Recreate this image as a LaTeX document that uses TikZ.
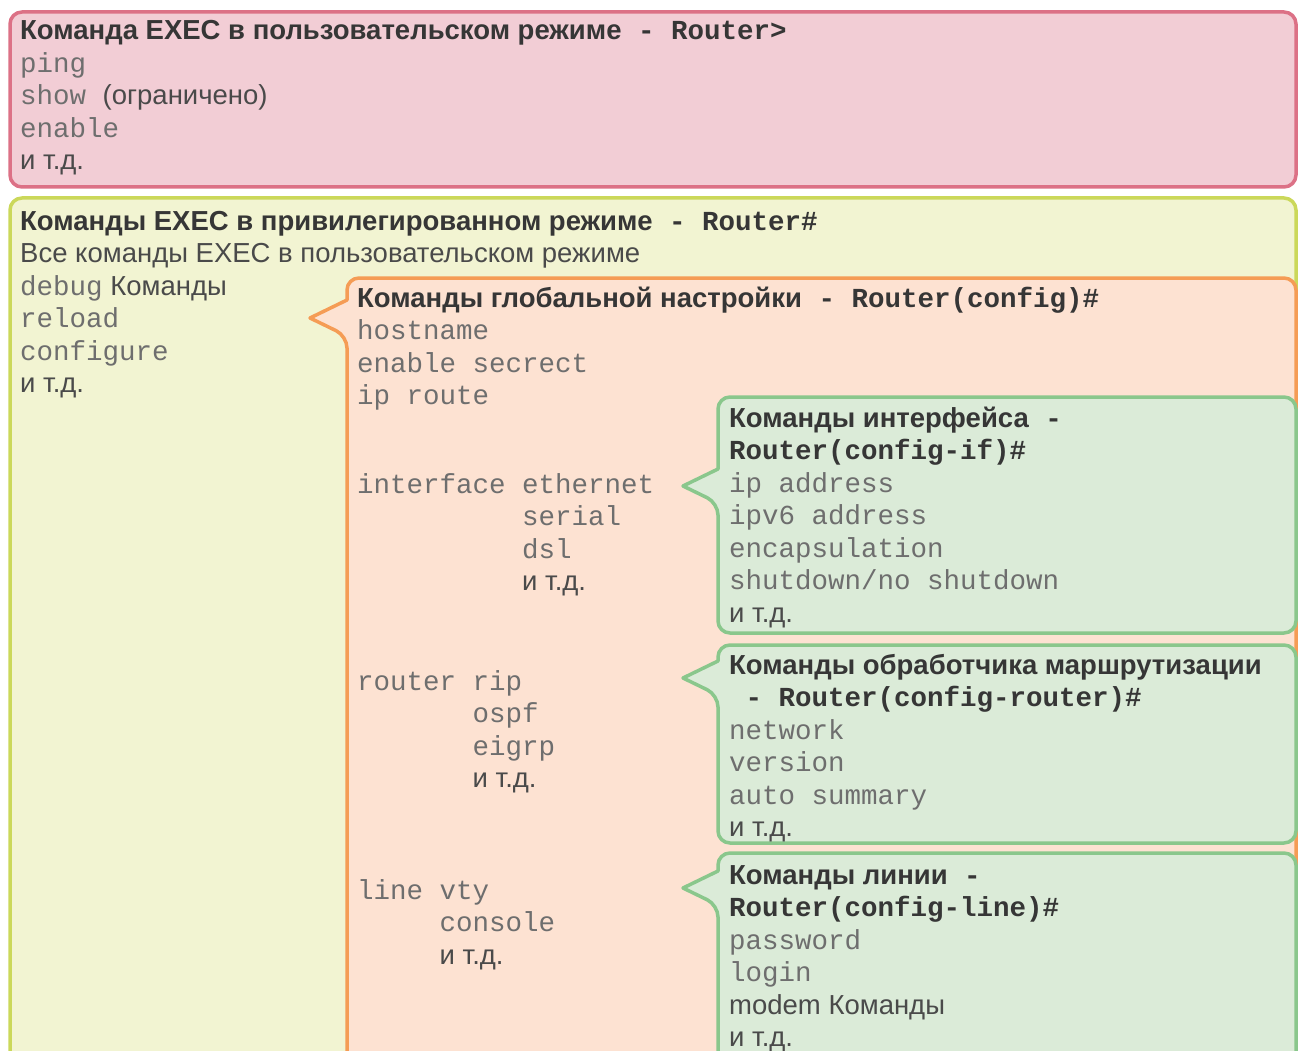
\documentclass[tikz,border=0pt]{standalone}
\usepackage{fontspec}
\setmainfont{Liberation Sans}
\setmonofont{Liberation Mono}
\usepackage{xcolor}
\usepackage{tikz}

\definecolor{pinkline}{HTML}{DC7186}
\definecolor{pinkfill}{HTML}{F2CDD5}
\definecolor{yellowline}{HTML}{CBD85A}
\definecolor{yellowfill}{HTML}{F2F4D2}
\definecolor{orangeline}{HTML}{F59C55}
\definecolor{orangefill}{HTML}{FDE2D2}
\definecolor{greenline}{HTML}{8AC78C}
\definecolor{greenfill}{HTML}{DBEBD8}
\definecolor{hdgray}{HTML}{363636}
\definecolor{cmdgray}{HTML}{6E6E6E}
\definecolor{etcgray}{HTML}{4A4A4A}

\newcommand{\hd}[1]{{\color{hdgray}\bfseries #1}}
\newcommand{\pr}[1]{{\color{hdgray}\ttfamily\bfseries #1}}
\newcommand{\cmd}[1]{{\color{cmdgray}\ttfamily #1}}

\tikzset{
    box/.style = {line width=3.5pt, rounded corners=12pt, line join=round},
    pink_box/.style = {box, draw=pinkline, fill=pinkfill},
    yellow_box/.style = {box, draw=yellowline, fill=yellowfill},
    orange_box/.style = {box, draw=orangeline, fill=orangefill},
    green_box/.style = {box, draw=greenline, fill=greenfill},
    % anchored at the baseline of the last line
    txt/.style = {anchor=base west, align=left, inner sep=0pt, text=etcgray,
                  font=\fontsize{27.5}{32.5}\selectfont}
}

\begin{document}
\begin{tikzpicture}[x=1pt, y=-1pt]
    \useasboundingbox (0,0) rectangle (1298,1051);
    \clip (0,0) rectangle (1298,1051);

    % user EXEC mode
    \draw[pink_box] (10,12) rectangle (1296,187);
    \node[txt] (userTxt) at (20,170)
        {\hd{Команда EXEC в пользовательском режиме}\pr{\ - Router>}\\
         \cmd{ping}\\
         \cmd{show }(ограничено)\\
         \cmd{enable}\\
         и т.д.};

    % privileged EXEC mode
    \draw[yellow_box] (10,198) rectangle (1296,1080);
    \node[txt] (privTxt) at (20,392.5)
        {\hd{Команды EXEC в привилегированном режиме}\pr{\ - Router\#}\\
         Все команды EXEC в пользовательском режиме\\
         \cmd{debug} Команды\\
         \cmd{reload}\\
         \cmd{configure}\\
         и т.д.};

    % global configuration
    \draw[orange_box] (700,278) -- (1296,278) -- (1296,1080) -- (347,1080)
        -- (347,336) [sharp corners] -- (310,318) -- (347,300)
        [rounded corners=12pt] -- (347,278) -- cycle;
    \node[txt] (globalTxt) at (357,404.5)
        {\hd{Команды глобальной настройки}\pr{\ - Router(config)\#}\\
         \cmd{hostname}\\
         \cmd{enable secrect}\\
         \cmd{ip route}};
    \node[txt] (ifList) at (357,590.5)
        {\cmd{interface ethernet}\\
         \cmd{\hphantom{interface }serial}\\
         \cmd{\hphantom{interface }dsl}\\
         \cmd{\hphantom{interface }}и т.д.};
    \node[txt] (routerList) at (357,787.5)
        {\cmd{router rip}\\
         \cmd{\hphantom{router }ospf}\\
         \cmd{\hphantom{router }eigrp}\\
         \cmd{\hphantom{router }}и т.д.};
    \node[txt] (lineList) at (357,964)
        {\cmd{line vty}\\
         \cmd{\hphantom{line }console}\\
         \cmd{\hphantom{line }}и т.д.};

    % interface
    \draw[green_box] (1000,397) -- (1296,397) -- (1296,633) -- (718,633)
        -- (718,503) [sharp corners] -- (683,486) -- (718,469)
        [rounded corners=12pt] -- (718,397) -- cycle;
    \node[txt] (ifTxt) at (729,622)
        {\hd{Команды интерфейса}\pr{\ -}\\
         \pr{Router(config-if)\#}\\
         \cmd{ip address}\\
         \cmd{ipv6 address}\\
         \cmd{encapsulation}\\
         \cmd{shutdown/no shutdown}\\
         и т.д.};

    % router
    \draw[green_box] (1000,645) -- (1296,645) -- (1296,843) -- (718,843)
        -- (718,695) [sharp corners] -- (683,678) -- (718,661)
        [rounded corners=12pt] -- (718,645) -- cycle;
    \node[txt] (routerTxt) at (729,836.5)
        {\hd{Команды обработчика маршрутизации}\\
         \pr{\hphantom{x}- Router(config-router)\#}\\
         \cmd{network}\\
         \cmd{version}\\
         \cmd{auto summary}\\
         и т.д.};

    % line
    \draw[green_box] (1000,853) -- (1296,853) -- (1296,1080) -- (718,1080)
        -- (718,905) [sharp corners] -- (683,888) -- (718,871)
        [rounded corners=12pt] -- (718,853) -- cycle;
    \node[txt] (lineTxt) at (729,1046.5)
        {\hd{Команды линии}\pr{\ -}\\
         \pr{Router(config-line)\#}\\
         \cmd{password}\\
         \cmd{login}\\
         modem Команды\\
         и т.д.};
\end{tikzpicture}
\end{document}
